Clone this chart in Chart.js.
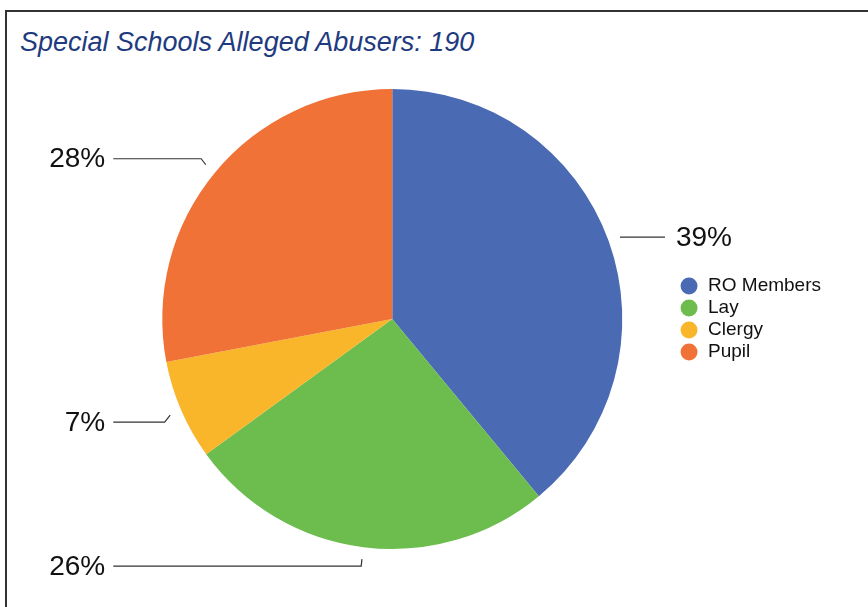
<!DOCTYPE html>
<html>
<head>
<meta charset="utf-8">
<title>Special Schools Alleged Abusers</title>
<script src="https://cdn.jsdelivr.net/npm/chart.js@4/dist/chart.umd.min.js"></script>
<style>
  html, body { margin: 0; padding: 0; background: #fff; }
  #wrap { position: relative; width: 868px; height: 607px; overflow: hidden; }
  #frame {
    position: absolute; left: 5px; top: 10px; width: 900px; height: 700px;
    border-left: 2px solid #333; border-top: 2px solid #333;
  }
  #title {
    position: absolute; left: 20px; top: 29px; margin: 0;
    font: italic 27px "Liberation Sans", Arial, sans-serif; line-height: 27px;
    color: #1f3b80; white-space: nowrap;
  }
  #myChart { position: absolute; left: 0; top: 0; }
</style>
</head>
<body>
<div id="wrap">
  <div id="frame"></div>
  <h1 id="title">Special Schools Alleged Abusers: 190</h1>
  <canvas id="myChart" width="868" height="607"></canvas>
</div>
<script>
const categories = ['RO Members', 'Lay', 'Clergy', 'Pupil'];
const shares = [39, 26, 7, 28];
const sliceColours = ['#4a6ab4', '#6cbd4e', '#f9b62b', '#f07237'];

// percent labels with leader lines outside each slice
const leaderLabels = {
  id: 'leaderLabels',
  afterDatasetsDraw(chart) {
    const ctx = chart.ctx;
    const meta = chart.getDatasetMeta(0);
    ctx.save();
    ctx.strokeStyle = '#333';
    ctx.lineWidth = 1.2;
    ctx.fillStyle = '#111';
    ctx.font = '28px "Liberation Sans", Arial, sans-serif';
    ctx.textBaseline = 'middle';
    meta.data.forEach((arc, i) => {
      const {x, y, startAngle, endAngle, outerRadius} = arc.getProps(['x', 'y', 'startAngle', 'endAngle', 'outerRadius'], true);
      const mid = (startAngle + endAngle) / 2;
      const cos = Math.cos(mid), sin = Math.sin(mid);
      const px = x + (outerRadius + 12) * cos;
      const py = y + (outerRadius + 12) * sin;
      const text = shares[i] + '%';
      ctx.beginPath();
      if (cos >= 0) {
        ctx.moveTo(px, py);
        ctx.lineTo(px + 45, py);
        ctx.stroke();
        ctx.textAlign = 'left';
        ctx.fillText(text, px + 56, py + 1);
      } else {
        // short kink away from the pie, then across to the label column
        const ex = px + 6 * cos;
        const ey = py + (sin < 0 ? -6 : 7);
        const colX = x - outerRadius - 49;
        ctx.moveTo(px, py);
        ctx.lineTo(ex, ey);
        ctx.lineTo(colX, ey);
        ctx.stroke();
        ctx.textAlign = 'right';
        ctx.fillText(text, colX - 8, ey + 1);
      }
    });
    ctx.restore();
  }
};

const ctx = document.getElementById('myChart');

new Chart(ctx, {
  type: 'pie',
  data: {
    labels: categories,
    datasets: [{
      data: shares,
      backgroundColor: sliceColours,
      borderWidth: 0
    }]
  },
  options: {
    responsive: false,
    animation: false,
    layout: {
      padding: { top: 89, bottom: 58, left: 108, right: 37 }
    },
    plugins: {
      legend: {
        position: 'right',
        labels: {
          usePointStyle: true,
          pointStyle: 'circle',
          boxWidth: 20,
          boxHeight: 12,
          padding: 3,
          color: '#111',
          font: { size: 19, family: '"Liberation Sans", Arial, sans-serif' }
        }
      },
      tooltip: { enabled: false }
    }
  },
  plugins: [leaderLabels]
});
</script>
</body>
</html>
